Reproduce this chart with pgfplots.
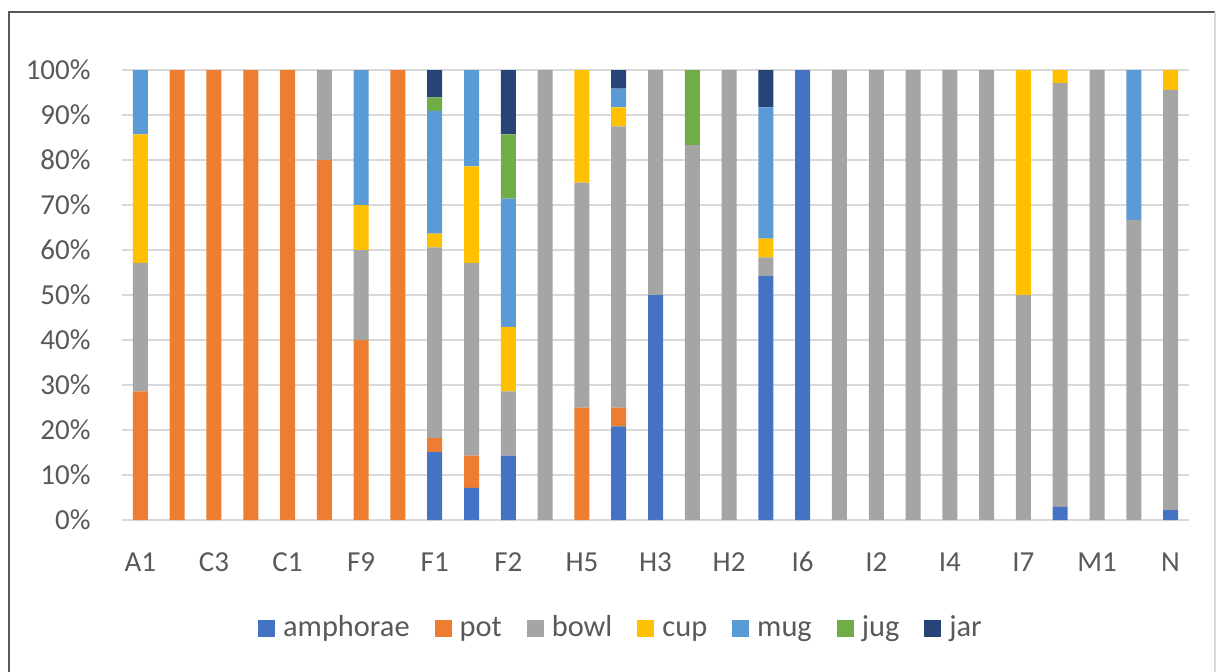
\documentclass[border=0pt]{standalone}
\usepackage{pgfplots}
\pgfplotsset{compat=1.18}
\usepackage{pgfplotstable}
\usepackage{fontspec}
\setmainfont{Carlito}

\definecolor{camph}{HTML}{4472C4}
\definecolor{cpot}{HTML}{ED7D31}
\definecolor{cbowl}{HTML}{A5A5A5}
\definecolor{ccup}{HTML}{FFC000}
\definecolor{cmug}{HTML}{5B9BD5}
\definecolor{cjug}{HTML}{70AD47}
\definecolor{cjar}{HTML}{264478}
\definecolor{txt}{HTML}{595959}
\definecolor{gridc}{HTML}{D9D9D9}
\definecolor{framec}{HTML}{595959}

% share of each vessel type per context (percent)
\pgfplotstableread{
idx amph  pot   bowl  cup   mug   jug   jar
0   0     28.57 28.57 28.57 14.29 0     0
1   0     100   0     0     0     0     0
2   0     100   0     0     0     0     0
3   0     100   0     0     0     0     0
4   0     100   0     0     0     0     0
5   0     80    20    0     0     0     0
6   0     40    20    10    30    0     0
7   0     100   0     0     0     0     0
8   15.15 3.03  42.42 3.03  27.27 3.03  6.06
9   7.14  7.14  42.86 21.43 21.43 0     0
10  14.29 0     14.29 14.29 28.57 14.28 14.28
11  0     0     100   0     0     0     0
12  0     25    50    25    0     0     0
13  20.83 4.17  62.50 4.17  4.17  0     4.16
14  50    0     50    0     0     0     0
15  0     0     83.33 0     0     16.67 0
16  0     0     100   0     0     0     0
17  54.17 0     4.17  4.17  29.17 0     8.32
18  100   0     0     0     0     0     0
19  0     0     100   0     0     0     0
20  0     0     100   0     0     0     0
21  0     0     100   0     0     0     0
22  0     0     100   0     0     0     0
23  0     0     100   0     0     0     0
24  0     0     50    50    0     0     0
25  2.94  0     94.12 2.94  0     0     0
26  0     0     100   0     0     0     0
27  0     0     66.67 0     33.33 0     0
28  2.22  0     93.34 4.44  0     0     0
}\ware

\pgfplotsset{
  seg/.style={fill=#1, draw=none,
    legend image code/.code={\fill[#1] (0pt,-4.25pt) rectangle (8.5pt,4.25pt);}},
}

\begin{document}
\begin{tikzpicture}[x=1pt,y=1pt]
\useasboundingbox (0,0) rectangle (608.5,335.5);
\draw[framec, line width=0.8pt] (4.5,-5) -- (4.5,329.5) -- (607.5,329.5);
\draw[gridc, line width=0.8pt] (607.5,329.5) -- (607.5,-5);
\begin{axis}[
  at={(61pt,75.5pt)}, anchor=south west,
  scale only axis, width=533.5pt, height=225pt,
  ybar stacked, bar width=7.5pt,
  xmin=-0.5, xmax=28.5, ymin=0, ymax=100,
  axis line style={draw=none},
  major tick length=0pt,
  ymajorgrids, major grid style={gridc, line width=0.8pt},
  xtick={0,2,...,28},
  xticklabels={A1,C3,C1,F9,F1,F2,H5,H3,H2,I6,I2,I4,I7,M1,N},
  ytick={0,10,...,100},
  yticklabels={0\%,10\%,20\%,30\%,40\%,50\%,60\%,70\%,80\%,90\%,100\%},
  tick label style={font=\fontsize{14.5}{17}\selectfont, text=txt},
  yticklabel style={inner sep=0pt, xshift=-15.5pt},
  xticklabel style={inner sep=0pt, yshift=-16pt, anchor=north},
  legend columns=7,
  legend style={draw=none, fill=none, at={(0.4686,-0.2411)}, anchor=center,
    font=\fontsize{15.2}{18}\selectfont, text=txt,
    nodes={inner sep=2pt, text height=11pt, text depth=3.5pt},
    /tikz/every odd column/.append style={column sep=2pt},
    /tikz/every even column/.append style={column sep=10.5pt}},
  legend cell align=left,
]
\addplot[seg=camph] table[x=idx, y=amph] {\ware};
\addplot[seg=cpot]  table[x=idx, y=pot]  {\ware};
\addplot[seg=cbowl] table[x=idx, y=bowl] {\ware};
\addplot[seg=ccup]  table[x=idx, y=cup]  {\ware};
\addplot[seg=cmug]  table[x=idx, y=mug]  {\ware};
\addplot[seg=cjug]  table[x=idx, y=jug]  {\ware};
\addplot[seg=cjar]  table[x=idx, y=jar]  {\ware};
\legend{amphorae,pot,bowl,cup,mug,jug,jar}
\end{axis}
\end{tikzpicture}
\end{document}
